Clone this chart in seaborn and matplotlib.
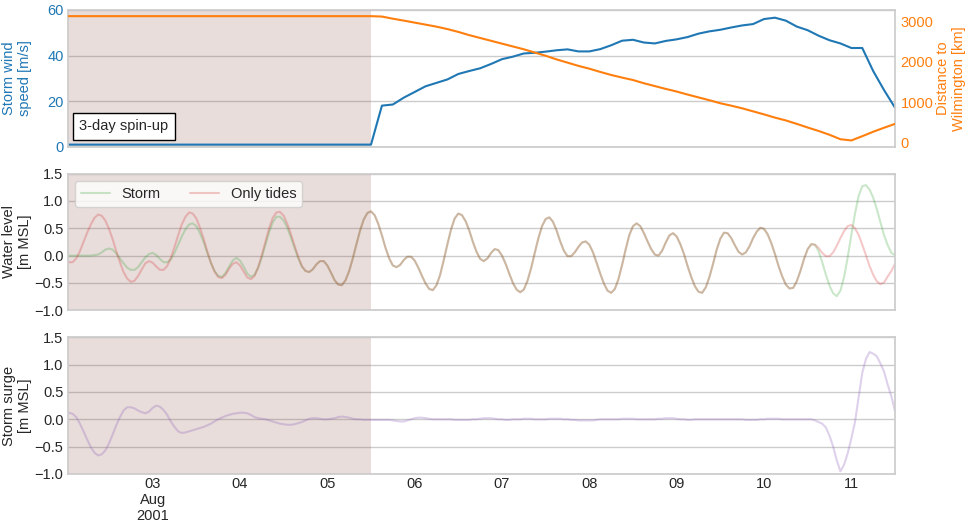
import numpy as np
import pandas as pd
import matplotlib
matplotlib.use("Agg")
import matplotlib.pyplot as plt
import seaborn as sns

# ---- data ----
# water level / surge, hourly, split into even hours (00, 02, ... from 2001-08-02 00:00
# to 2001-08-11 12:00) and odd hours (01, 03, ... from 2001-08-02 01:00 to 2001-08-11 11:00)
tides_even = [-0.11, -0.12, 0.08, 0.42, 0.69, 0.73, 0.49, 0.08, -0.30, -0.48,
              -0.37, -0.14, -0.13, -0.26, -0.19, 0.16, 0.57, 0.79, 0.68, 0.31,
              -0.13, -0.39, -0.35, -0.15, -0.18, -0.40, -0.37, 0.01, 0.50, 0.79,
              0.73, 0.39, -0.02, -0.28, -0.25, -0.10, -0.18, -0.45, -0.54, -0.28,
              0.21, 0.66, 0.81, 0.58, 0.14, -0.18, -0.17, -0.02, -0.09, -0.37,
              -0.61, -0.54, -0.08, 0.48, 0.77, 0.63, 0.25, -0.06, -0.05, 0.12,
              0.00, -0.33, -0.62, -0.62, -0.23, 0.32, 0.67, 0.62, 0.26, -0.01,
              0.06, 0.24, 0.20, -0.13, -0.51, -0.68, -0.43, 0.12, 0.54, 0.54,
              0.26, 0.02, 0.09, 0.37, 0.35, 0.03, -0.39, -0.66, -0.58, -0.15,
              0.31, 0.41, 0.19, 0.02, 0.17, 0.44, 0.49, 0.23, -0.19, -0.53,
              -0.59, -0.28, 0.12, 0.20, 0.05, -0.01, 0.18, 0.45, 0.56, 0.38,
              0.01, -0.35, -0.52, -0.38, -0.15]
tides_odd = [-0.12, -0.05, 0.25, 0.57, 0.75, 0.64, 0.30, -0.12, -0.42, -0.46,
             -0.25, -0.10, -0.20, -0.26, -0.04, 0.37, 0.71, 0.77, 0.51, 0.08,
             -0.29, -0.41, -0.24, -0.12, -0.29, -0.43, -0.21, 0.26, 0.69, 0.80,
             0.58, 0.18, -0.19, -0.30, -0.16, -0.10, -0.31, -0.53, -0.45, -0.05,
             0.46, 0.78, 0.74, 0.37, -0.05, -0.21, -0.08, -0.02, -0.22, -0.51,
             -0.63, -0.35, 0.21, 0.68, 0.74, 0.46, 0.07, -0.10, 0.05, 0.10,
             -0.15, -0.50, -0.67, -0.46, 0.05, 0.54, 0.70, 0.46, 0.09, -0.01,
             0.16, 0.26, 0.06, -0.33, -0.64, -0.61, -0.17, 0.38, 0.59, 0.41,
             0.12, 0.00, 0.24, 0.41, 0.21, -0.19, -0.56, -0.68, -0.39, 0.11,
             0.42, 0.32, 0.07, 0.06, 0.32, 0.51, 0.39, 0.03, -0.38, -0.60,
             -0.47, -0.06, 0.21, 0.14, -0.01, 0.06, 0.32, 0.54, 0.50, 0.20,
             -0.19, -0.47, -0.49, -0.28]
storm_even = [0.00, 0.00, 0.00, 0.00, 0.01, 0.06, 0.13, 0.04, -0.14, -0.26,
              -0.21, -0.03, 0.05, -0.06, -0.12, 0.05, 0.35, 0.57, 0.54, 0.25,
              -0.13, -0.37, -0.32, -0.09, -0.09, -0.33, -0.35, -0.03, 0.43, 0.71,
              0.64, 0.33, -0.05, -0.28, -0.25, -0.10, -0.18, -0.45, -0.54, -0.28,
              0.21, 0.66, 0.81, 0.58, 0.14, -0.18, -0.17, -0.02, -0.09, -0.37,
              -0.61, -0.54, -0.08, 0.48, 0.77, 0.63, 0.25, -0.06, -0.05, 0.12,
              0.00, -0.33, -0.62, -0.62, -0.23, 0.32, 0.67, 0.62, 0.26, -0.01,
              0.06, 0.24, 0.20, -0.13, -0.51, -0.68, -0.43, 0.12, 0.54, 0.54,
              0.26, 0.02, 0.09, 0.37, 0.35, 0.03, -0.39, -0.66, -0.58, -0.15,
              0.31, 0.41, 0.19, 0.02, 0.17, 0.44, 0.49, 0.23, -0.19, -0.53,
              -0.59, -0.28, 0.12, 0.20, -0.12, -0.55, -0.74, -0.39, 0.38, 1.09,
              1.29, 1.06, 0.61, 0.19, 0.01]
storm_odd = [0.00, 0.00, 0.00, 0.00, 0.02, 0.11, 0.11, -0.05, -0.22, -0.26,
             -0.12, 0.03, 0.01, -0.12, -0.07, 0.20, 0.48, 0.59, 0.41, 0.05,
             -0.28, -0.39, -0.20, -0.04, -0.20, -0.39, -0.22, 0.20, 0.61, 0.71,
             0.51, 0.14, -0.20, -0.30, -0.16, -0.10, -0.31, -0.53, -0.45, -0.05,
             0.46, 0.78, 0.74, 0.37, -0.05, -0.21, -0.08, -0.02, -0.22, -0.51,
             -0.63, -0.35, 0.21, 0.68, 0.74, 0.46, 0.07, -0.10, 0.05, 0.10,
             -0.15, -0.50, -0.67, -0.46, 0.05, 0.54, 0.70, 0.46, 0.09, -0.01,
             0.16, 0.26, 0.06, -0.33, -0.64, -0.61, -0.17, 0.38, 0.59, 0.41,
             0.12, 0.00, 0.24, 0.41, 0.21, -0.19, -0.56, -0.68, -0.39, 0.11,
             0.42, 0.32, 0.07, 0.06, 0.32, 0.51, 0.39, 0.03, -0.38, -0.60,
             -0.47, -0.06, 0.21, 0.08, -0.35, -0.69, -0.64, -0.03, 0.77, 1.27,
             1.21, 0.85, 0.37, 0.05]
surge_even = [0.13, 0.10, -0.08, -0.37, -0.61, -0.64, -0.44, -0.11, 0.16, 0.22,
              0.16, 0.11, 0.21, 0.23, 0.08, -0.14, -0.25, -0.22, -0.18, -0.14,
              -0.08, 0.00, 0.06, 0.10, 0.12, 0.11, 0.04, 0.01, -0.02, -0.06,
              -0.09, -0.10, -0.07, -0.02, 0.02, 0.01, 0.00, 0.02, 0.05, 0.03,
              0.00, -0.01, -0.01, -0.01, -0.01, -0.02, -0.04, -0.02, 0.02, 0.03,
              0.01, 0.00, 0.00, 0.00, -0.01, -0.01, 0.00, 0.01, 0.02, 0.01,
              0.00, -0.01, 0.00, 0.01, 0.01, 0.00, 0.00, 0.01, 0.01, 0.00,
              -0.01, -0.02, -0.02, -0.01, 0.00, 0.00, 0.00, 0.01, 0.01, 0.00,
              0.00, 0.00, 0.01, 0.02, 0.01, 0.00, -0.01, 0.00, 0.00, 0.00,
              0.00, 0.00, 0.00, 0.00, -0.01, -0.01, 0.00, 0.01, 0.01, 0.00,
              0.00, 0.00, 0.00, -0.02, -0.08, -0.30, -0.75, -0.83, -0.35, 0.40,
              1.10, 1.20, 1.02, 0.63, 0.15]
surge_odd = [0.12, 0.04, -0.22, -0.51, -0.66, -0.57, -0.28, 0.04, 0.22, 0.20,
             0.13, 0.14, 0.25, 0.17, -0.04, -0.22, -0.24, -0.20, -0.16, -0.11,
             -0.04, 0.03, 0.08, 0.11, 0.12, 0.08, 0.02, 0.00, -0.04, -0.08,
             -0.10, -0.09, -0.05, 0.01, 0.02, 0.00, 0.01, 0.04, 0.04, 0.01,
             0.00, -0.01, -0.01, -0.01, -0.01, -0.03, -0.04, 0.00, 0.03, 0.02,
             0.00, 0.00, 0.00, -0.01, -0.01, -0.01, 0.00, 0.02, 0.02, 0.00,
             -0.01, 0.00, 0.00, 0.01, 0.00, 0.00, 0.01, 0.01, 0.00, -0.01,
             -0.02, -0.02, -0.02, 0.00, 0.00, 0.00, 0.01, 0.01, 0.00, 0.00,
             0.00, 0.01, 0.02, 0.02, 0.00, -0.01, 0.00, 0.00, 0.00, 0.00,
             0.00, 0.00, 0.00, -0.01, -0.01, 0.00, 0.01, 0.01, 0.00, 0.00,
             0.00, 0.00, 0.00, -0.05, -0.15, -0.50, -0.95, -0.62, -0.05, 0.85,
             1.23, 1.15, 0.87, 0.42]

# storm track: every 3 h from 2001-08-02 00:00 to 2001-08-11 12:00
wind = [0.9] * 28 + [
    0.9, 18.0, 18.5, 21.5, 24.0, 26.5, 28.0, 29.5, 31.9, 33.2,
    34.4, 36.3, 38.4, 39.5, 40.9, 41.2, 41.7, 42.3, 42.7, 41.8,
    41.8, 42.8, 44.5, 46.5, 46.9, 45.7, 45.3, 46.4, 47.1, 48.1,
    49.6, 50.6, 51.3, 52.3, 53.2, 53.8, 56.0, 56.6, 55.3, 52.7,
    51.1, 48.7, 46.7, 45.3, 43.3, 43.3, 33.2, 24.8, 17.1]
dist = [3130] * 28 + [
    3130, 3120, 3067, 3020, 2970, 2920, 2870, 2810, 2740, 2660,
    2590, 2520, 2450, 2380, 2310, 2230, 2150, 2060, 1980, 1900,
    1830, 1750, 1675, 1610, 1550, 1470, 1400, 1330, 1265, 1190,
    1120, 1050, 975, 915, 850, 775, 700, 620, 550, 465,
    375, 290, 195, 85, 55, 160, 270, 370, 465]

tick_days = ["03", "04", "05", "06", "07", "08", "09", "10", "11"]
tick_labels = ["03\nAug\n2001", "04", "05", "06", "07", "08", "09", "10", "11"]

t_even = pd.date_range("2001-08-02 00:00", periods=len(tides_even), freq="2h")
t_odd = pd.date_range("2001-08-02 01:00", periods=len(tides_odd), freq="2h")
wl = pd.concat([
    pd.DataFrame({"time": t_even, "storm": storm_even, "tides": tides_even, "surge": surge_even}),
    pd.DataFrame({"time": t_odd, "storm": storm_odd, "tides": tides_odd, "surge": surge_odd}),
]).sort_values("time").reset_index(drop=True)

t3 = pd.date_range("2001-08-02 00:00", "2001-08-11 12:00", freq="3h")
track = pd.DataFrame({"time": t3, "wind": wind, "dist": dist})

spin_start = pd.Timestamp("2001-08-02 00:00")
spin_end = pd.Timestamp("2001-08-05 12:00")

sns.set_theme(style="whitegrid")
plt.rcParams["font.family"] = ["Liberation Sans", "DejaVu Sans"]
plt.rcParams["axes.labelsize"] = 10.5
plt.rcParams["xtick.labelsize"] = 10.5
plt.rcParams["ytick.labelsize"] = 10.5
plt.rcParams["legend.fontsize"] = 10.5

fig, axes = plt.subplots(3, 1, figsize=(9.68, 5.23), dpi=100, sharex=True)
fig.subplots_adjust(left=0.070, right=0.9246, top=0.981, bottom=0.0937, hspace=0.197)

# top: wind speed + distance
ax = axes[0]
sns.lineplot(data=track, x="time", y="wind", color="tab:blue", lw=1.5, ax=ax)
ax.set_ylim(0, 60)
ax.set_yticks([0, 20, 40, 60])
ax.set_ylabel("Storm wind\nspeed [m/s]", color="tab:blue")
ax.tick_params(axis="y", colors="tab:blue")
ax.set_xlabel("")
ax.text(0.014, 0.15, "3-day spin-up", transform=ax.transAxes, va="center",
        fontsize=10.5, bbox=dict(facecolor="white", edgecolor="black",
                                 boxstyle="square,pad=0.45"))
ax2 = ax.twinx()
sns.lineplot(data=track, x="time", y="dist", color="tab:orange", lw=1.5, ax=ax2)
ax2.grid(False)
ax2.set_ylabel("Distance to\nWilmington [km]", color="tab:orange")
ax2.tick_params(axis="y", colors="tab:orange", length=0, pad=4)
ax2.set_yticks([0, 1000, 2000, 3000])
ax2.yaxis.set_label_coords(1.049, 0.5)
for s in ax2.spines.values():
    s.set_visible(False)

# middle: water level
ax = axes[1]
sns.lineplot(data=wl, x="time", y="storm", color="tab:green", alpha=0.25, label="Storm", ax=ax)
sns.lineplot(data=wl, x="time", y="tides", color="tab:red", alpha=0.25, label="Only tides", ax=ax)
ax.set_ylabel("Water level\n[m MSL]")
ax.legend(loc="upper left", ncol=2)

# bottom: storm surge
ax = axes[2]
sns.lineplot(data=wl, x="time", y="surge", color="tab:purple", alpha=0.3, ax=ax)
ax.set_ylabel("Storm surge\n[m MSL]")

for ax in axes[1:]:
    ax.set_ylim(-1.0, 1.5)
    ax.set_yticks([-1.0, -0.5, 0.0, 0.5, 1.0, 1.5])
for ax in axes:
    ax.axvspan(spin_start, spin_end, color="tab:brown", alpha=0.2, lw=0)
    ax.set_xlabel("")
    ax.grid(axis="x", visible=False)
    ax.yaxis.set_label_coords(-0.043, 0.5)
    ax.tick_params(axis="x", length=0, pad=2)
    ax.tick_params(axis="y", length=0, pad=3)

axes[2].set_xticks([pd.Timestamp(f"2001-08-{d}") for d in tick_days])
axes[2].set_xticklabels(tick_labels)
axes[2].set_xlim(pd.Timestamp("2001-08-02 00:40"), pd.Timestamp("2001-08-11 12:00"))

fig.savefig("out.png", dpi=100)
